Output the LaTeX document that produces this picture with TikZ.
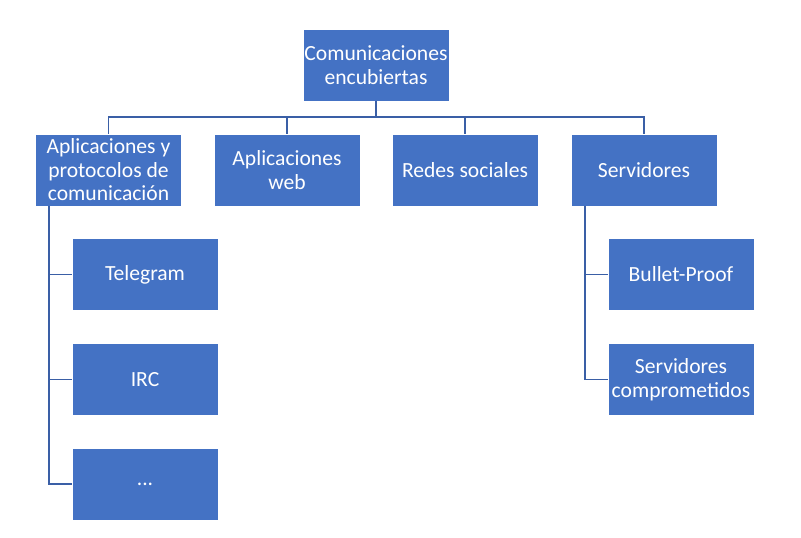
\documentclass[tikz,border=0pt]{standalone}
\usepackage{fontspec}
\setmainfont{Carlito}
\usetikzlibrary{positioning}
\definecolor{boxblue}{HTML}{4472C4}
\definecolor{lineblue}{HTML}{3A5FA6}
\begin{document}
\begin{tikzpicture}[x=0.75pt, y=-0.75pt,
		box/.style={fill=boxblue, draw=white, line width=0.4pt, text=white, align=center,
			minimum width=109.5pt, minimum height=54pt, inner sep=1pt,
			font=\fontsize{16.2}{17.6}\selectfont},
		link/.style={draw=lineblue, line width=1.3pt}]
			\useasboundingbox (0, 0) rectangle (801, 537);

			\node[box] (root) at (376, 65) {Comunicaciones\\encubiertas};

			\node[box] (apps) at (108.5, 170) {Aplicaciones y\\protocolos de\\comunicación};
			\node[box] (web) at (287, 170) {Aplicaciones\\web};
			\node[box] (redes) at (465, 170) {Redes sociales};
			\node[box] (serv) at (644, 170) {Servidores};

			\node[box] (tel) at (145, 274.5) {Telegram};
			\node[box] (irc) at (145, 379.5) {IRC};
			\node[box] (dots) at (145, 484) {...};

			\node[box] (bp) at (681, 274.5) {Bullet-Proof};
			\node[box] (comp) at (681, 379.5) {Servidores\\comprometidos};

			\coordinate (bus) at (376, 117);
			\coordinate (appsfoot) at (49, 206);
			\coordinate (servfoot) at (585, 206);

			\draw[link] (root) -- (bus);
			\foreach \n in {apps, web, redes, serv}
				\draw[link] (\n.north) |- (bus);

			\foreach \n in {tel, irc, dots}
				\draw[link] (appsfoot) |- (\n.west);
			\foreach \n in {bp, comp}
				\draw[link] (servfoot) |- (\n.west);
		\end{tikzpicture}
\end{document}
